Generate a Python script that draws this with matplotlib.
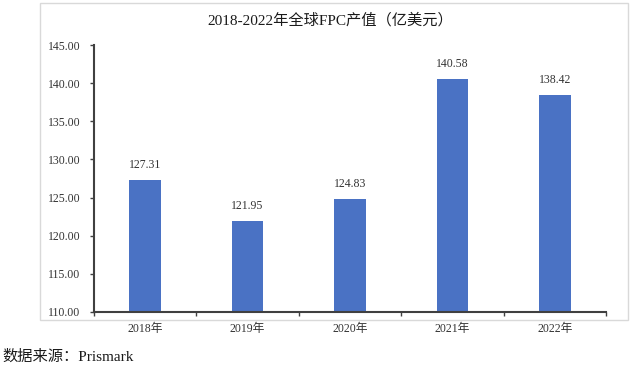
import matplotlib.pyplot as plt
from matplotlib.patches import Rectangle
import numpy as np

plt.rcParams['font.family'] = ['Liberation Serif', 'Noto Sans CJK SC', 'DejaVu Sans']

years = ['2018年', '2019年', '2020年', '2021年', '2022年']
values = [127.31, 121.95, 124.83, 140.58, 138.42]
yticks = [110, 115, 120, 125, 130, 135, 140, 145]

fig = plt.figure(figsize=(6.4, 3.72), dpi=100)

# outer chart frame
fig.patches.append(Rectangle((40 / 640, 1 - 320 / 372), 588 / 640, 317 / 372,
                             transform=fig.transFigure, fill=False,
                             edgecolor='#d9d9d9', linewidth=1.0))

ax = fig.add_axes([94 / 640, 1 - 312 / 372, 512 / 640, 267 / 372])
x = np.arange(len(years))
bars = ax.bar(x, values, width=0.31, color='#4a72c4', zorder=2)

for xi, v in zip(x, values):
    ax.text(xi, v + 1.2, f'{v:.2f}', ha='center', va='bottom', fontsize=8.5, color='#333333')

ax.set_ylim(110, 145)
ax.set_xlim(-0.5, len(years) - 0.5)
ax.set_yticks(yticks)
ax.set_yticklabels([f'{t:.2f}' for t in yticks], fontsize=8.5, color='#333333')
ax.set_xticks(x)
ax.set_xticklabels(years, fontsize=8.5, color='#333333')
ax.set_xticks(np.arange(-0.5, len(years)), minor=True)

ax.tick_params(axis='x', which='major', length=0, pad=8)
ax.tick_params(axis='x', which='minor', length=3, width=1, color='#404040', direction='out')
ax.tick_params(axis='y', length=3, width=1, color='#404040', direction='out', pad=7)

for s in ['top', 'right']:
    ax.spines[s].set_visible(False)
for s in ['left', 'bottom']:
    ax.spines[s].set_color('#404040')
    ax.spines[s].set_linewidth(1.5)

fig.text(330 / 640, 1 - 20 / 372, '2018-2022年全球FPC产值（亿美元）', ha='center', va='center',
         fontsize=11, color='#1a1a1a')
fig.text(2 / 640, 1 - 357 / 372, '数据来源：Prismark', ha='left', va='center',
         fontsize=11, color='#1a1a1a')

fig.savefig('out.png', dpi=100)
